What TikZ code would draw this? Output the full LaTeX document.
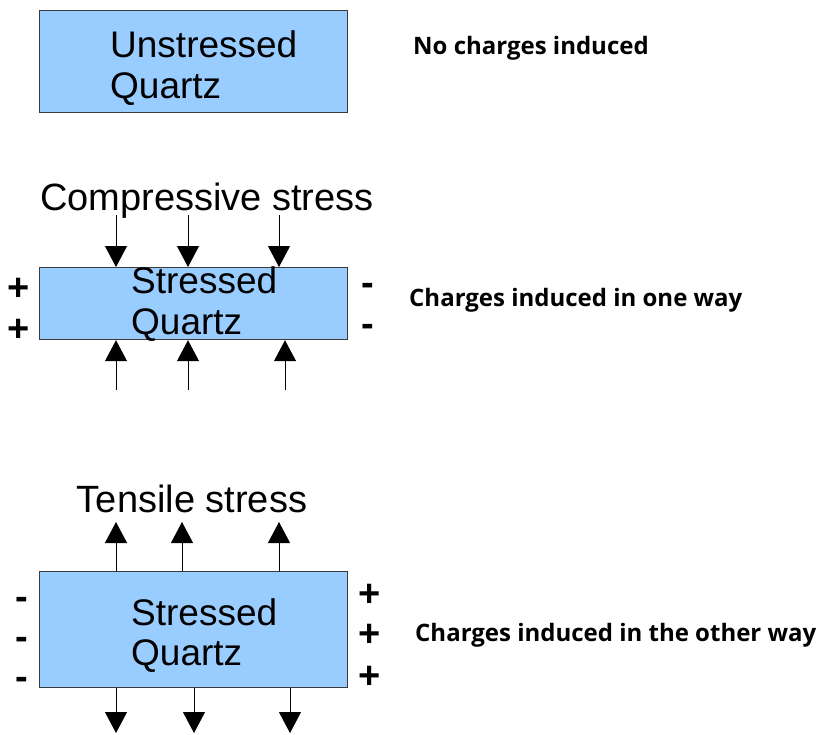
\documentclass[tikz,border=0pt]{standalone}
\usepackage{fontspec}
\setmainfont{Liberation Sans}
\newfontfamily\labfont{Open Sans}
\usetikzlibrary{arrows.meta}
\definecolor{quartzfill}{HTML}{99CCFF}
\definecolor{quartzedge}{HTML}{3A3A3A}
\tikzset{
  quartz/.style={draw=quartzedge, line width=1.2pt, fill=quartzfill, inner sep=0pt, anchor=north west},
  bigtext/.style={font=\fontsize{37}{36}\selectfont, align=left, inner sep=0pt},
  titletext/.style={font=\fontsize{38}{36}\selectfont, inner sep=0pt, anchor=base},
  sign/.style={font=\fontsize{38}{38}\selectfont\bfseries, inner sep=0pt},
  labeltext/.style={font=\labfont\bfseries\fontsize{24}{24}\selectfont, anchor=west, inner sep=0pt},
  stressarrow/.style={line width=1pt, -{Triangle[width=22pt,length=21pt]}}
}
\begin{document}
\begin{tikzpicture}[x=1pt,y=-1pt]
\useasboundingbox (0,0) rectangle (824,734);
% Box 1
\node[quartz, minimum width=308pt, minimum height=102pt] (b1) at (39,10) {};
\node[bigtext, anchor=base west] (t1a) at (110,57) {Unstressed};
\node[bigtext, anchor=base west] (t1b) at (110,98) {Quartz};
\node[labeltext] (l1) at (413,48) {No charges induced};
% Box 2
\node[titletext] (cs) at (207,210) {Compressive stress};
\node[quartz, minimum width=308pt, minimum height=72pt] (b2) at (39,267) {};
\node[bigtext, anchor=base west] (t2a) at (131,293) {Stressed};
\node[bigtext, anchor=base west] (t2b) at (131,334) {Quartz};
\node[sign] (p1) at (19,289) {+};
\node[sign] (p2) at (19,330) {+};
\node[sign] (m1) at (368,289) {-};
\node[sign] (m2) at (368,330) {-};
\node[labeltext] (l2) at (409,300) {Charges induced in one way};
\coordinate (a1) at (116,215);
\coordinate (a2) at (188,215);
\coordinate (a3) at (279,215);
\coordinate (a4) at (116,390);
\coordinate (a5) at (188,390);
\coordinate (a6) at (285,390);
\foreach \c in {a1,a2,a3}{\draw[stressarrow] (\c) -- (\c |- b2.north);}
\foreach \c in {a4,a5,a6}{\draw[stressarrow] (\c) -- (\c |- b2.south);}
% Box 3
\node[titletext] (ts) at (192,512) {Tensile stress};
\node[quartz, minimum width=308pt, minimum height=116pt] (b3) at (39,571) {};
\node[bigtext, anchor=base west] (t3a) at (131,625) {Stressed};
\node[bigtext, anchor=base west] (t3b) at (131,665) {Quartz};
\node[sign] (n1) at (22,603) {-};
\node[sign] (n2) at (22,643) {-};
\node[sign] (n3) at (22,683) {-};
\node[sign] (q1) at (370,595) {+};
\node[sign] (q2) at (370,635) {+};
\node[sign] (q3) at (370,677) {+};
\node[labeltext] (l3) at (415,635) {Charges induced in the other way};
\coordinate (u1) at (116,522);
\coordinate (u2) at (182,522);
\coordinate (u3) at (279,522);
\coordinate (d1) at (116,733);
\coordinate (d2) at (194,733);
\coordinate (d3) at (290,733);
\foreach \c in {u1,u2,u3}{\draw[stressarrow] (\c |- b3.north) -- (\c);}
\foreach \c in {d1,d2,d3}{\draw[stressarrow] (\c |- b3.south) -- (\c);}
\end{tikzpicture}
\end{document}
